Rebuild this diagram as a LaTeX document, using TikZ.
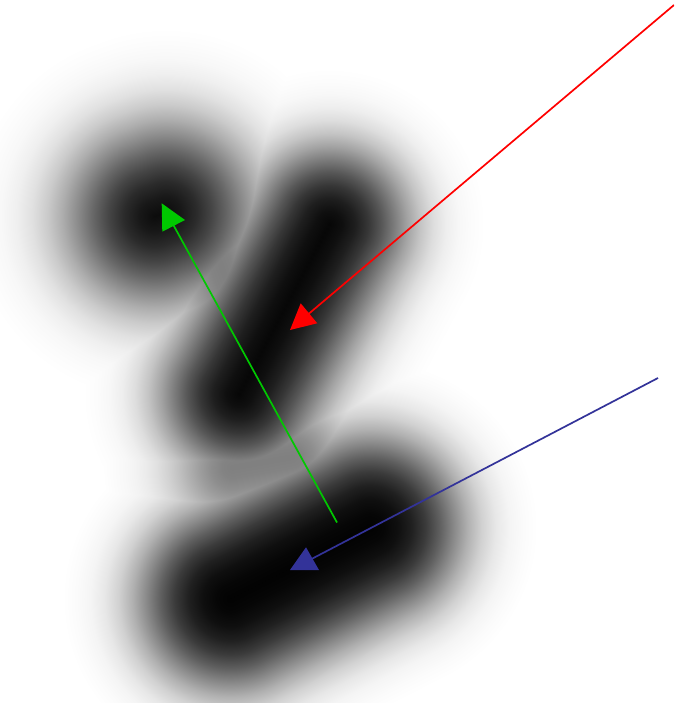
\documentclass[tikz,border=0pt]{standalone}
\usetikzlibrary{calc}
\definecolor{arrred}{RGB}{255,0,0}
\definecolor{arrgreen}{RGB}{0,200,0}
\definecolor{arrblue}{RGB}{51,51,153}
% soft radial profiles (gaussian fall-off), 25bp = circle radius
\pgfdeclareradialshading{blobA}{\pgfpoint{0bp}{0bp}}{%
  color(0bp)=(black!95.3); color(2.083bp)=(black!90.6); color(4.167bp)=(black!83.2);
  color(6.25bp)=(black!72.7); color(8.333bp)=(black!59.8); color(10.417bp)=(black!45.7);
  color(12.5bp)=(black!32.1); color(14.583bp)=(black!20.6); color(16.667bp)=(black!11.9);
  color(18.75bp)=(black!6.2); color(20.833bp)=(black!2.9); color(22.917bp)=(black!1.2);
  color(25bp)=(white); color(50bp)=(white)}
\pgfdeclareradialshading{blobB}{\pgfpoint{0bp}{0bp}}{%
  color(0bp)=(black!97.4); color(2.083bp)=(black!94.1); color(4.167bp)=(black!88);
  color(6.25bp)=(black!78.6); color(8.333bp)=(black!66); color(10.417bp)=(black!51.2);
  color(12.5bp)=(black!36.2); color(14.583bp)=(black!23.1); color(16.667bp)=(black!13.2);
  color(18.75bp)=(black!6.7); color(20.833bp)=(black!3); color(22.917bp)=(black!1.2);
  color(25bp)=(white); color(50bp)=(white)}
\pgfdeclareradialshading{blobC}{\pgfpoint{0bp}{0bp}}{%
  color(0bp)=(black!99.1); color(2.083bp)=(black!97.6); color(4.167bp)=(black!94.1);
  color(6.25bp)=(black!87.4); color(8.333bp)=(black!76.9); color(10.417bp)=(black!62.7);
  color(12.5bp)=(black!46.5); color(14.583bp)=(black!30.9); color(16.667bp)=(black!18.1);
  color(18.75bp)=(black!9.3); color(20.833bp)=(black!4.1); color(22.917bp)=(black!1.6);
  color(25bp)=(white); color(50bp)=(white)}
\pgfdeclareradialshading{bridge}{\pgfpoint{0bp}{0bp}}{%
  color(0bp)=(black!50); color(2.083bp)=(black!48.6); color(4.167bp)=(black!44.5);
  color(6.25bp)=(black!38.5); color(8.333bp)=(black!31.5); color(10.417bp)=(black!24.2);
  color(12.5bp)=(black!17.6); color(14.583bp)=(black!12.1); color(16.667bp)=(black!7.8);
  color(18.75bp)=(black!4.8); color(20.833bp)=(black!2.8); color(22.917bp)=(black!1.5);
  color(25bp)=(white); color(50bp)=(white)}
\tikzset{
  conn/.style={line width=1.7pt},
  head/.style={draw=none},
  soft/.style={shading=#1, blend mode=darken}
}
% #1 shading, #2,#3 centre (px), #4 angle, #5 half length, #6 radius
\newcommand{\softstroke}[6]{%
  \foreach \t in {-1,-0.95,...,1.001}{%
    \pgfmathsetmacro{\px}{#2+\t*#5*cos(#4)}%
    \pgfmathsetmacro{\py}{-#3+\t*#5*sin(#4)}%
    \shade[soft=#1] (\px,\py) circle (#6);%
  }}
\begin{document}
\begin{tikzpicture}[x=1pt,y=1pt]
\useasboundingbox (0,0) rectangle (674,-703);
\clip (0,0) rectangle (674,-703);
\fill[white] (0,0) rectangle (674,-703);
% blurred blobs
\softstroke{blobA}{160}{214}{20}{6}{184}
\softstroke{blobB}{284}{309}{62}{96}{156}
\softstroke{blobC}{300}{563}{27}{78}{168}
% soft joins between the blobs
\softstroke{bridge}{218}{258}{-70}{40}{130}
\softstroke{bridge}{262}{462}{10}{30}{130}
% coordinates
\coordinate (rs) at (674,-5);
\coordinate (rc) at (302.7,-318.9);
\coordinate (gs) at (337,-522.5);
\coordinate (gc) at (169.7,-218.3);
\coordinate (bs) at (658,-378);
\coordinate (bc) at (305,-562.4);
% connectors
\draw[conn,arrred] (rs) -- (rc);
\draw[conn,arrgreen] (gs) -- (gc);
\draw[conn,arrblue] (bs) -- (bc);
% heads
\coordinate (r1) at (300.7,-303.3);
\coordinate (r2) at (317.3,-323.3);
\coordinate (r3) at (290,-330);
\coordinate (g1) at (161.7,-203.3);
\coordinate (g2) at (185,-220);
\coordinate (g3) at (162.3,-231.7);
\coordinate (b1) at (290,-570);
\coordinate (b2) at (319,-570);
\coordinate (b3) at (306,-547.3);
\fill[head,arrred] (r1) -- (r2) -- (r3) -- cycle;
\fill[head,arrgreen] (g1) -- (g2) -- (g3) -- cycle;
\fill[head,arrblue] (b1) -- (b2) -- (b3) -- cycle;
\end{tikzpicture}
\end{document}
